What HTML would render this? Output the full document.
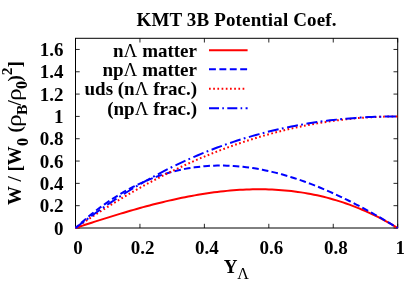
<!DOCTYPE html>
<html><head><meta charset="utf-8"><style>
html,body{margin:0;padding:0;background:#fff;}
svg{display:block;will-change:transform;}
text{font-family:"Liberation Serif",serif;font-weight:bold;font-size:19px;fill:#000}
.n{font-weight:normal}
</style></head><body>
<svg width="409" height="286" viewBox="0 0 409 286">
<rect width="409" height="286" fill="#fff"/>
<rect x="75.5" y="38.3" width="322.2" height="189.7" fill="none" stroke="#000" stroke-width="1"/>
<path d="M75.50,228.0 V223.8 M75.50,38.3 V42.5" stroke="#000" stroke-width="0.85"/>
<path d="M139.94,228.0 V223.8 M139.94,38.3 V42.5" stroke="#000" stroke-width="0.85"/>
<path d="M204.38,228.0 V223.8 M204.38,38.3 V42.5" stroke="#000" stroke-width="0.85"/>
<path d="M268.82,228.0 V223.8 M268.82,38.3 V42.5" stroke="#000" stroke-width="0.85"/>
<path d="M333.26,228.0 V223.8 M333.26,38.3 V42.5" stroke="#000" stroke-width="0.85"/>
<path d="M397.70,228.0 V223.8 M397.70,38.3 V42.5" stroke="#000" stroke-width="0.85"/>
<path d="M75.5,228.00 H79.7 M397.7,228.00 H393.5" stroke="#000" stroke-width="0.85"/>
<path d="M75.5,205.68 H79.7 M397.7,205.68 H393.5" stroke="#000" stroke-width="0.85"/>
<path d="M75.5,183.36 H79.7 M397.7,183.36 H393.5" stroke="#000" stroke-width="0.85"/>
<path d="M75.5,161.05 H79.7 M397.7,161.05 H393.5" stroke="#000" stroke-width="0.85"/>
<path d="M75.5,138.73 H79.7 M397.7,138.73 H393.5" stroke="#000" stroke-width="0.85"/>
<path d="M75.5,116.41 H79.7 M397.7,116.41 H393.5" stroke="#000" stroke-width="0.85"/>
<path d="M75.5,94.09 H79.7 M397.7,94.09 H393.5" stroke="#000" stroke-width="0.85"/>
<path d="M75.5,71.78 H79.7 M397.7,71.78 H393.5" stroke="#000" stroke-width="0.85"/>
<path d="M75.5,49.46 H79.7 M397.7,49.46 H393.5" stroke="#000" stroke-width="0.85"/>
<text x="78.10" y="253.9" text-anchor="middle">0</text>
<text x="142.54" y="253.9" text-anchor="middle">0.2</text>
<text x="206.98" y="253.9" text-anchor="middle">0.4</text>
<text x="271.42" y="253.9" text-anchor="middle">0.6</text>
<text x="335.86" y="253.9" text-anchor="middle">0.8</text>
<text x="400.30" y="253.9" text-anchor="middle">1</text>
<text x="63.5" y="234.60" text-anchor="end">0</text>
<text x="63.5" y="212.28" text-anchor="end">0.2</text>
<text x="63.5" y="189.96" text-anchor="end">0.4</text>
<text x="63.5" y="167.65" text-anchor="end">0.6</text>
<text x="63.5" y="145.33" text-anchor="end">0.8</text>
<text x="63.5" y="123.01" text-anchor="end">1</text>
<text x="63.5" y="100.69" text-anchor="end">1.2</text>
<text x="63.5" y="78.38" text-anchor="end">1.4</text>
<text x="63.5" y="56.06" text-anchor="end">1.6</text>
<text x="236.5" y="26.1" text-anchor="middle" textLength="200" lengthAdjust="spacing">KMT 3B Potential Coef.</text>
<text x="236.3" y="272.6" text-anchor="middle">Y<tspan dy="6.5" font-size="16" class="n">Λ</tspan></text>
<text transform="translate(21.3,205.0) rotate(-90)" style="font-size:19px">W</text>
<text transform="translate(21.3,181.5) rotate(-90)" style="font-size:19px">/</text>
<text transform="translate(21.3,171.5) rotate(-90)" style="font-size:19px">[</text>
<text transform="translate(21.3,165.2) rotate(-90)" style="font-size:19px">W</text>
<text transform="translate(27.5,146.0) rotate(-90)" style="font-size:16px">0</text>
<text transform="translate(21.3,132.4) rotate(-90)" style="font-size:19px">(</text>
<text transform="translate(21.0,126.9) rotate(-90) scale(1.25,1)" style="font-size:20.5px" class="n">ρ</text>
<text transform="translate(27.2,115.1) rotate(-90)" style="font-size:15.5px">B</text>
<text transform="translate(21.3,105.6) rotate(-90)" style="font-size:19px">/</text>
<text transform="translate(21.0,101.1) rotate(-90) scale(1.25,1)" style="font-size:20.5px" class="n">ρ</text>
<text transform="translate(27.4,89.0) rotate(-90)" style="font-size:16px">0</text>
<text transform="translate(21.3,81.6) rotate(-90)" style="font-size:19px">)</text>
<text transform="translate(11.6,75.2) rotate(-90)" style="font-size:15.5px">2</text>
<text transform="translate(21.2,67.6) rotate(-90)" style="font-size:19px">]</text>
<text x="197" y="56.699999999999996" text-anchor="end">n<tspan class="n">Λ</tspan> matter</text>
<path d="M209,50.199999999999996 H247.6" stroke="#f00" stroke-width="2" fill="none"/>
<text x="197" y="75.8" text-anchor="end">np<tspan class="n">Λ</tspan> matter</text>
<path d="M209,69.3 H247.6" stroke="#00f" stroke-width="2" fill="none" stroke-dasharray="6.9,3.5"/>
<text x="197" y="95.3" text-anchor="end">uds (n<tspan class="n">Λ</tspan> frac.)</text>
<path d="M209,88.8 H245.6" stroke="#f00" stroke-width="2" fill="none" stroke-dasharray="1.7,2.5"/>
<text x="197" y="114.8" text-anchor="end">(np<tspan class="n">Λ</tspan> frac.)</text>
<path d="M209,108.3 H247.6" stroke="#00f" stroke-width="2" fill="none" stroke-dasharray="10,3.3,1.6,3.4"/>
<path d="M75.50,228.00 L78.72,226.93 L81.94,225.87 L85.17,224.81 L88.39,223.76 L91.61,222.71 L94.83,221.67 L98.05,220.64 L101.28,219.61 L104.50,218.59 L107.72,217.58 L110.94,216.58 L114.16,215.58 L117.39,214.60 L120.61,213.63 L123.83,212.67 L127.05,211.72 L130.27,210.78 L133.50,209.85 L136.72,208.94 L139.94,208.04 L143.16,207.15 L146.38,206.28 L149.61,205.43 L152.83,204.59 L156.05,203.77 L159.27,202.96 L162.49,202.17 L165.72,201.40 L168.94,200.65 L172.16,199.91 L175.38,199.20 L178.60,198.51 L181.83,197.83 L185.05,197.18 L188.27,196.55 L191.49,195.94 L194.71,195.36 L197.94,194.80 L201.16,194.26 L204.38,193.75 L207.60,193.26 L210.82,192.80 L214.05,192.36 L217.27,191.95 L220.49,191.56 L223.71,191.21 L226.93,190.88 L230.16,190.58 L233.38,190.31 L236.60,190.07 L239.82,189.86 L243.04,189.69 L246.27,189.54 L249.49,189.42 L252.71,189.34 L255.93,189.29 L259.15,189.28 L262.38,189.29 L265.60,189.35 L268.82,189.44 L272.04,189.56 L275.26,189.72 L278.49,189.92 L281.71,190.15 L284.93,190.42 L288.15,190.73 L291.37,191.08 L294.60,191.47 L297.82,191.90 L301.04,192.37 L304.26,192.88 L307.48,193.43 L310.71,194.03 L313.93,194.66 L317.15,195.34 L320.37,196.07 L323.59,196.84 L326.82,197.65 L330.04,198.51 L333.26,199.42 L336.48,200.37 L339.70,201.37 L342.93,202.41 L346.15,203.51 L349.37,204.65 L352.59,205.84 L355.81,207.08 L359.04,208.38 L362.26,209.72 L365.48,211.11 L368.70,212.56 L371.92,214.06 L375.15,215.61 L378.37,217.21 L381.59,218.87 L384.81,220.59 L388.03,222.36 L391.26,224.18 L394.48,226.06 L397.70,228.00" stroke="#f00" stroke-width="2" fill="none"/>
<path d="M75.50,228.00 L78.72,225.06 L81.94,222.20 L85.17,219.42 L88.39,216.72 L91.61,214.09 L94.83,211.54 L98.05,209.07 L101.28,206.67 L104.50,204.35 L107.72,202.10 L110.94,199.93 L114.16,197.82 L117.39,195.80 L120.61,193.84 L123.83,191.95 L127.05,190.14 L130.27,188.40 L133.50,186.72 L136.72,185.12 L139.94,183.58 L143.16,182.11 L146.38,180.71 L149.61,179.37 L152.83,178.10 L156.05,176.90 L159.27,175.76 L162.49,174.68 L165.72,173.67 L168.94,172.72 L172.16,171.83 L175.38,171.00 L178.60,170.24 L181.83,169.53 L185.05,168.89 L188.27,168.30 L191.49,167.78 L194.71,167.31 L197.94,166.90 L201.16,166.54 L204.38,166.24 L207.60,166.00 L210.82,165.81 L214.05,165.68 L217.27,165.60 L220.49,165.57 L223.71,165.59 L226.93,165.67 L230.16,165.80 L233.38,165.98 L236.60,166.21 L239.82,166.49 L243.04,166.81 L246.27,167.19 L249.49,167.61 L252.71,168.08 L255.93,168.60 L259.15,169.16 L262.38,169.77 L265.60,170.42 L268.82,171.12 L272.04,171.86 L275.26,172.64 L278.49,173.46 L281.71,174.33 L284.93,175.23 L288.15,176.18 L291.37,177.17 L294.60,178.19 L297.82,179.26 L301.04,180.36 L304.26,181.50 L307.48,182.67 L310.71,183.89 L313.93,185.13 L317.15,186.42 L320.37,187.73 L323.59,189.08 L326.82,190.47 L330.04,191.88 L333.26,193.33 L336.48,194.81 L339.70,196.31 L342.93,197.85 L346.15,199.42 L349.37,201.02 L352.59,202.64 L355.81,204.29 L359.04,205.97 L362.26,207.68 L365.48,209.41 L368.70,211.17 L371.92,212.95 L375.15,214.75 L378.37,216.58 L381.59,218.43 L384.81,220.30 L388.03,222.20 L391.26,224.11 L394.48,226.05 L397.70,228.00" stroke="#00f" stroke-width="2" fill="none" stroke-dasharray="6.6,3.2" stroke-dashoffset="2.35"/>
<path d="M75.50,228.00 L78.72,225.78 L81.94,223.58 L85.17,221.41 L88.39,219.25 L91.61,217.12 L94.83,215.01 L98.05,212.92 L101.28,210.86 L104.50,208.82 L107.72,206.80 L110.94,204.80 L114.16,202.83 L117.39,200.87 L120.61,198.94 L123.83,197.03 L127.05,195.15 L130.27,193.28 L133.50,191.44 L136.72,189.62 L139.94,187.83 L143.16,186.05 L146.38,184.30 L149.61,182.57 L152.83,180.87 L156.05,179.18 L159.27,177.52 L162.49,175.88 L165.72,174.26 L168.94,172.66 L172.16,171.09 L175.38,169.54 L178.60,168.01 L181.83,166.50 L185.05,165.02 L188.27,163.56 L191.49,162.12 L194.71,160.70 L197.94,159.31 L201.16,157.93 L204.38,156.58 L207.60,155.26 L210.82,153.95 L214.05,152.67 L217.27,151.41 L220.49,150.17 L223.71,148.95 L226.93,147.76 L230.16,146.59 L233.38,145.44 L236.60,144.31 L239.82,143.20 L243.04,142.12 L246.27,141.06 L249.49,140.02 L252.71,139.01 L255.93,138.02 L259.15,137.04 L262.38,136.10 L265.60,135.17 L268.82,134.27 L272.04,133.38 L275.26,132.53 L278.49,131.69 L281.71,130.87 L284.93,130.08 L288.15,129.31 L291.37,128.56 L294.60,127.84 L297.82,127.14 L301.04,126.45 L304.26,125.80 L307.48,125.16 L310.71,124.55 L313.93,123.96 L317.15,123.39 L320.37,122.84 L323.59,122.31 L326.82,121.81 L330.04,121.33 L333.26,120.88 L336.48,120.44 L339.70,120.03 L342.93,119.64 L346.15,119.27 L349.37,118.92 L352.59,118.60 L355.81,118.30 L359.04,118.02 L362.26,117.76 L365.48,117.53 L368.70,117.32 L371.92,117.13 L375.15,116.96 L378.37,116.81 L381.59,116.69 L384.81,116.59 L388.03,116.51 L391.26,116.46 L394.48,116.42 L397.70,116.41" stroke="#f00" stroke-width="2" fill="none" stroke-dasharray="1.7,2.5"/>
<path d="M75.50,228.00 L78.72,225.51 L81.94,223.05 L85.17,220.62 L88.39,218.22 L91.61,215.86 L94.83,213.53 L98.05,211.24 L101.28,208.97 L104.50,206.74 L107.72,204.54 L110.94,202.37 L114.16,200.23 L117.39,198.13 L120.61,196.05 L123.83,194.01 L127.05,192.00 L130.27,190.02 L133.50,188.07 L136.72,186.15 L139.94,184.26 L143.16,182.40 L146.38,180.57 L149.61,178.77 L152.83,177.00 L156.05,175.26 L159.27,173.55 L162.49,171.86 L165.72,170.21 L168.94,168.59 L172.16,166.99 L175.38,165.42 L178.60,163.88 L181.83,162.37 L185.05,160.89 L188.27,159.43 L191.49,158.00 L194.71,156.60 L197.94,155.23 L201.16,153.89 L204.38,152.57 L207.60,151.27 L210.82,150.01 L214.05,148.77 L217.27,147.56 L220.49,146.37 L223.71,145.21 L226.93,144.07 L230.16,142.96 L233.38,141.88 L236.60,140.82 L239.82,139.79 L243.04,138.78 L246.27,137.80 L249.49,136.84 L252.71,135.90 L255.93,134.99 L259.15,134.10 L262.38,133.24 L265.60,132.40 L268.82,131.59 L272.04,130.80 L275.26,130.03 L278.49,129.28 L281.71,128.56 L284.93,127.86 L288.15,127.18 L291.37,126.53 L294.60,125.90 L297.82,125.29 L301.04,124.70 L304.26,124.13 L307.48,123.59 L310.71,123.06 L313.93,122.56 L317.15,122.08 L320.37,121.62 L323.59,121.18 L326.82,120.76 L330.04,120.36 L333.26,119.98 L336.48,119.62 L339.70,119.29 L342.93,118.97 L346.15,118.67 L349.37,118.39 L352.59,118.13 L355.81,117.89 L359.04,117.67 L362.26,117.46 L365.48,117.28 L368.70,117.11 L371.92,116.96 L375.15,116.83 L378.37,116.72 L381.59,116.62 L384.81,116.55 L388.03,116.49 L391.26,116.45 L394.48,116.42 L397.70,116.41" stroke="#00f" stroke-width="2" fill="none" stroke-dasharray="11,3.3,1.8,3.6"/>
</svg>
</body></html>
